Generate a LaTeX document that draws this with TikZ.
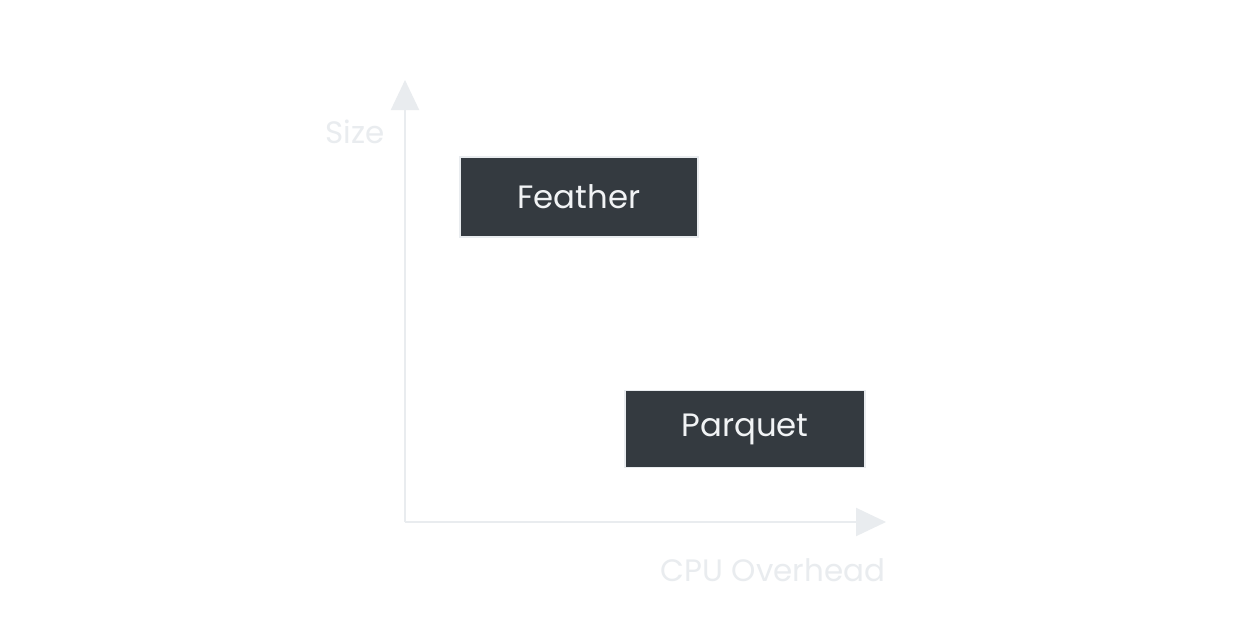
\documentclass[tikz,border=0pt]{standalone}
\usepackage{fontspec}
\setmainfont{Poppins}
\usepackage{tikz}
\usetikzlibrary{arrows.meta, positioning}
\definecolor{axisgray}{HTML}{E9ECEF}
\definecolor{boxdark}{HTML}{343A40}
\definecolor{textlight}{HTML}{F1F3F5}

\begin{document}
\begin{tikzpicture}[
  x=0.025cm, y=-0.025cm,
  format/.style={
    rectangle, minimum width=5.95cm, minimum height=2.0cm,
    align=center, fill=boxdark, draw=axisgray, line width=1.3pt,
    text=textlight, font=\fontsize{23}{26}\selectfont
  },
  axis/.style={-{Triangle[length=0.75cm, width=0.7cm]}, line width=1.4pt, color=axisgray},
  axislabel/.style={font=\fontsize{22}{25}\selectfont, text=axisgray}
]
  % Canvas
  \fill[white] (0,0) rectangle (1255,637);
  \useasboundingbox (0,0) rectangle (1255,637);

  % Axes
  \coordinate (origin) at (405,522);
  \coordinate (ytip) at (405,80);
  \coordinate (xtip) at (886,522);
  \draw[axis] (origin) -- (ytip);
  \draw[axis] (origin) -- (xtip);

  % Axis labels
  \node[axislabel] (size) at (355,132) {Size};
  \node[axislabel] (cpu) at (773,570) {CPU Overhead};

  % Format boxes
  \node[format] (feather) at (579,197) {Feather};
  \node[format, minimum width=6.0cm, minimum height=1.925cm] (parquet) at (745,429) {Parquet};
\end{tikzpicture}
\end{document}
